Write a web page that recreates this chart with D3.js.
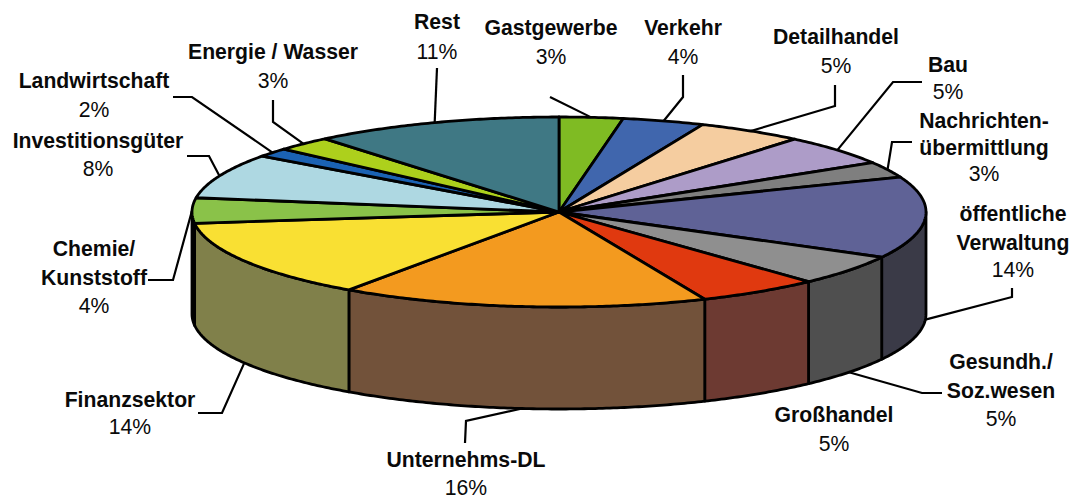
<!DOCTYPE html>
<html><head><meta charset="utf-8">
<script src="https://cdn.jsdelivr.net/npm/d3@7"></script>
<style>html,body{margin:0;padding:0;background:#fff}svg{display:block}
text{font-family:"Liberation Sans",Arial,sans-serif;font-size:21.2px;fill:#0a0a0a;text-anchor:middle}
.n{font-weight:bold}</style></head><body>
<script>
// ---- data (top level) ----
const categories = ["Gastgewerbe","Verkehr","Detailhandel","Bau","Nachrichtenübermittlung","öffentliche Verwaltung","Gesundh./Soz.wesen","Großhandel","Unternehms-DL","Finanzsektor","Chemie/Kunststoff","Investitionsgüter","Landwirtschaft","Energie / Wasser","Rest"];
const percentLabels = ["3%","4%","5%","5%","3%","14%","5%","5%","16%","14%","4%","8%","2%","3%","11%"];
const shares = [2.8,3.6,4.7,5.2,2.7,13.9,5.2,5.4,16.2,13.4,4.3,7.6,1.5,2.5,11.0];
const topColors = ["#7fbb23","#4066ad","#f5cda0","#ad9cc8","#7f7f7f","#5f6296","#8f8f8f","#e0390f","#f39a1f","#f9e033","#8ac249","#aed8e2","#1b62b3","#add01c","#3f7884"];
const wallColors = ["#4f7a16","#2a4370","#a08568","#716582","#525252","#3a3a47","#4f4f4f","#6d3a32","#72523a","#80804a","#5a7e30","#718c93","#123f74","#70871a","#294e56"];
// label layout: text lines with centre position, and leader elbow points
const labelLines = [
 ["Gastgewerbe"],["Verkehr"],["Detailhandel"],["Bau"],["Nachrichten-","übermittlung"],
 ["öffentliche","Verwaltung"],["Gesundh./","Soz.wesen"],["Großhandel"],["Unternehms-DL"],["Finanzsektor"],
 ["Chemie/","Kunststoff"],["Investitionsgüter"],["Landwirtschaft"],["Energie / Wasser"],["Rest"]
];
const labelX = [551,683,836,948,984,1013,1001,834,466,130,94,98,94,273,437];
const labelY = [28,28,37,65,121,214,362,415,460,400,249,141,81,52,22];
const labelGap = [[29],[29],[29],[27],[27,26],[29,27],[29,28],[29],[28],[27],[29,28],[28],[29],[29],[30]];
const leaders = [
 [[550,97]],[[683,75],[683,97]],[[835,85],[835,106]],[[922,82],[893,82]],[[912,142],[892,142]],
 [[1012,288],[1012,297]],[[942,393],[922,393]],[],[[465,443],[466,421]],[[198,413],[222,413]],
 [[148,280],[173,280]],[[187,156],[209,156]],[[173,97],[192,97]],[[273,100],[273,122]],[[437,68]]
];
// ---- geometry ----
const cx=559, cy=212, rx=367, ry=95, depth=102;
const px=a=>cx+rx*Math.sin(a), py=a=>cy-ry*Math.cos(a);
const pie=d3.pie().sort(null).value(d=>d)(shares);
const line=d3.line();
const svg=d3.select("body").append("svg").attr("width",1072).attr("height",500);
const STEP=0.01;
function samples(a0,a1){const n=Math.max(2,Math.ceil((a1-a0)/STEP));return d3.range(n+1).map(i=>a0+(a1-a0)*i/n);}
const PI=Math.PI;
// walls: front half only, drawn before top faces
const gW=svg.append("g");
pie.forEach((p,i)=>{
  const a0=Math.max(p.startAngle,PI/2), a1=Math.min(p.endAngle,3*PI/2);
  if(a1<=a0) return;
  const s=samples(a0,a1);
  const pts=s.map(a=>[px(a),py(a)]).concat(s.slice().reverse().map(a=>[px(a),py(a)+depth]));
  gW.append("path").attr("d",line(pts)+"Z").attr("fill",wallColors[i])
    .attr("stroke","#000").attr("stroke-width",2.8).attr("stroke-linejoin","round");
});
const gT=svg.append("g");
pie.forEach((p,i)=>{
  const pts=[[cx,cy]].concat(samples(p.startAngle,p.endAngle).map(a=>[px(a),py(a)]));
  gT.append("path").attr("d",line(pts)+"Z").attr("fill",topColors[i])
    .attr("stroke","#000").attr("stroke-width",2.8).attr("stroke-linejoin","round");
});
// leaders attach at each slice's mid-angle on the outer rim
const gL=svg.append("g");
pie.forEach((p,i)=>{
  if(!leaders[i].length) return;
  const m=(p.startAngle+p.endAngle)/2;
  const front=Math.cos(m)<0;
  const anchor=[px(m),py(m)+(front&&Math.abs(Math.sin(m))<0.999?depth:0)];
  gL.append("path").attr("d",line(leaders[i].concat([anchor]))).attr("fill","none")
    .attr("stroke","#000").attr("stroke-width",2.2);
});
// labels
const gX=svg.append("g");
categories.forEach((c,i)=>{
  let y=labelY[i]+7;
  labelLines[i].forEach((t,j)=>{
    gX.append("text").attr("class","n").attr("x",labelX[i]).attr("y",y).text(t);
    y+=labelGap[i][j];
  });
  gX.append("text").attr("x",labelX[i]).attr("y",y).text(percentLabels[i]);
});
</script></body></html>
